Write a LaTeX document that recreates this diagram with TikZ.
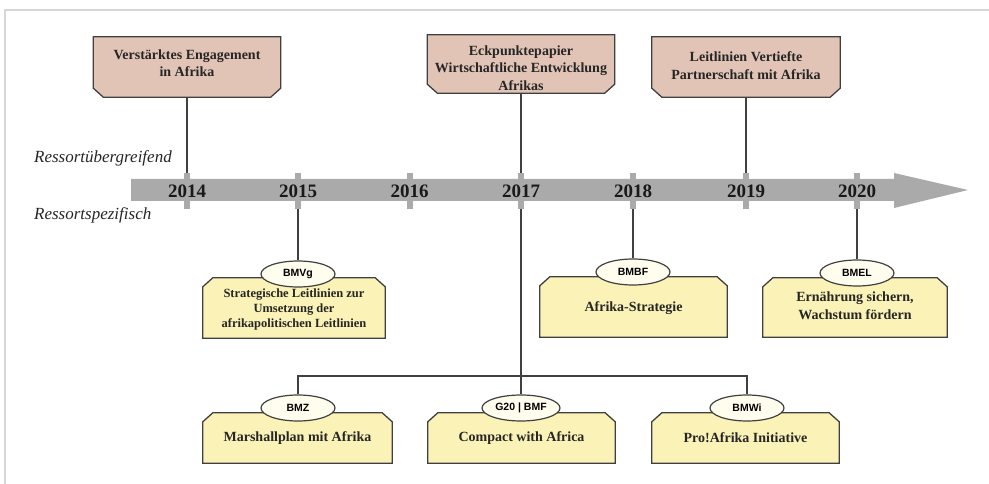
\documentclass[tikz,border=0pt]{standalone}
\usepackage{fontspec}
\setmainfont{Liberation Serif}
\setsansfont{Liberation Sans}
\usetikzlibrary{shapes.geometric,backgrounds}
\definecolor{topfill}{RGB}{226,196,182}
\definecolor{lowfill}{RGB}{250,242,182}
\definecolor{ellfill}{RGB}{255,253,238}
\definecolor{edgec}{RGB}{64,64,64}
\definecolor{axisc}{RGB}{170,170,170}
\definecolor{framec}{RGB}{215,215,215}
\newcommand{\ChamBot}[2]{%
  \draw[#2] (#1.north west) -- (#1.north east) -- ([yshift=9pt]#1.south east)
    -- ([xshift=-10pt]#1.south east) -- ([xshift=10pt]#1.south west)
    -- ([yshift=9pt]#1.south west) -- cycle;}
\newcommand{\ChamTop}[2]{%
  \draw[#2] (#1.south west) -- (#1.south east) -- ([yshift=-9pt]#1.north east)
    -- ([xshift=-10pt]#1.north east) -- ([xshift=10pt]#1.north west)
    -- ([yshift=-9pt]#1.north west) -- cycle;}
\tikzset{
  boxtext/.style={rectangle, inner sep=0pt, align=center,
    font=\bfseries\fontsize{14}{17.5}\selectfont, text=black!85},
  boxframe/.style={rectangle, inner sep=0pt},
  boxline/.style={draw=edgec, line width=1.3pt, line join=miter},
  topbox/.style={boxline, fill=topfill},
  lowbox/.style={boxline, fill=lowfill},
  agency/.style={ellipse, draw=edgec, line width=1.2pt, fill=ellfill, inner sep=0pt,
    minimum width=74pt, minimum height=26pt,
    font=\sffamily\bfseries\fontsize{10.5}{12}\selectfont},
  yearmark/.style={rectangle, fill=axisc, inner sep=0pt, minimum width=6pt, minimum height=36pt},
  yearlabel/.style={font=\bfseries\fontsize{19}{22}\selectfont, inner sep=0pt, text=black!90},
  conn/.style={draw=edgec, line width=1.2pt},
  ressort/.style={font=\itshape\fontsize{17}{20}\selectfont, anchor=west, inner sep=0pt, text=black!85},
}
\begin{document}
\begin{tikzpicture}[x=1pt,y=-1pt]
\useasboundingbox (0,0) rectangle (989,484);
% frame
\draw[framec, line width=1.5pt] (5,484) -- (5,10) -- (989,10);

% timeline arrow
\fill[axisc] (131,179) -- (894,179) -- (894,173) -- (968,190) -- (894,208)
  -- (894,201) -- (131,201) -- cycle;
\foreach \yr/\xx in {2014/187,2015/298,2016/409.5,2017/521,2018/633,2019/746,2020/857}{
  \node[yearmark] (t\yr) at (\xx,191) {};
  \node[yearlabel] (y\yr) at (\xx,191.5) {\yr};
}

% ressort labels
\node[ressort] (rue) at (34,158) {Ressortübergreifend};
\node[ressort] (rsp) at (34,215) {Ressortspezifisch};

% top boxes
\node[boxframe, minimum width=187pt, minimum height=60pt,
  label={[boxtext, yshift=4pt]center:{Verstärktes Engagement\\in Afrika}}] (b1) at (187,67) {};
\node[boxframe, minimum width=187pt, minimum height=58pt,
  label={[boxtext, yshift=-4pt]center:{Eckpunktepapier\\Wirtschaftliche Entwicklung\\Afrikas}}] (b2) at (521,64) {};
\node[boxframe, minimum width=188pt, minimum height=60pt,
  label={[boxtext, yshift=1.5pt]center:{Leitlinien Vertiefte\\Partnerschaft mit Afrika}}] (b3) at (746,67) {};

% lower boxes, first row
\node[boxframe, minimum width=182pt, minimum height=60pt,
  label={[boxtext, font=\bfseries\fontsize{12.5}{15}\selectfont, yshift=-1pt]center:{Strategische Leitlinien zur\\Umsetzung der\\afrikapolitischen Leitlinien}}] (s1) at (294,308) {};
\node[boxframe, minimum width=187pt, minimum height=60pt,
  label={[boxtext, yshift=-1pt]center:{Afrika-Strategie}}] (s2) at (633.5,307) {};
\node[boxframe, minimum width=184pt, minimum height=59pt,
  label={[boxtext, yshift=2pt]center:{Ernährung sichern,\\Wachstum fördern}}] (s3) at (855,307.5) {};

% lower boxes, second row
\node[boxframe, minimum width=189pt, minimum height=50pt,
  label={[boxtext]center:{Marshallplan mit Afrika}}] (m1) at (297.5,438) {};
\node[boxframe, minimum width=187pt, minimum height=50pt,
  label={[boxtext]center:{Compact with Africa}}] (m2) at (521.5,438) {};
\node[boxframe, minimum width=187pt, minimum height=50pt,
  label={[boxtext]center:{Pro!Afrika Initiative}}] (m3) at (745.5,438) {};

\begin{pgfonlayer}{background}
  \ChamBot{b1}{topbox}
  \ChamBot{b2}{topbox}
  \ChamBot{b3}{topbox}
  \ChamTop{s1}{lowbox}
  \ChamTop{s2}{lowbox}
  \ChamTop{s3}{lowbox}
  \ChamTop{m1}{lowbox}
  \ChamTop{m2}{lowbox}
  \ChamTop{m3}{lowbox}
\end{pgfonlayer}

% agency ellipses
\node[agency] (bmvg) at (298,274) {BMVg};
\node[agency] (bmbf) at (633,272) {BMBF};
\node[agency] (bmel) at (857,273) {BMEL};
\node[agency] (bmz) at (298,408) {BMZ};
\node[agency, minimum width=78pt] (g20) at (521,408) {G20 | BMF};
\node[agency] (bmwi) at (747,408) {BMWi};

% connectors
\draw[conn] (b1.south) -- (t2014.north);
\draw[conn] (b2.south) -- (t2017.north);
\draw[conn] (b3.south) -- (t2019.north);
\draw[conn] (t2015.south) -- (bmvg.north);
\draw[conn] (t2018.south) -- (bmbf.north);
\draw[conn] (t2020.south) -- (bmel.north);
\draw[conn] (t2017.south) -- (g20.north);
\coordinate (hub) at (521,376);
\draw[conn] (bmz.north) |- (hub) -| (bmwi.north);
\end{tikzpicture}
\end{document}
